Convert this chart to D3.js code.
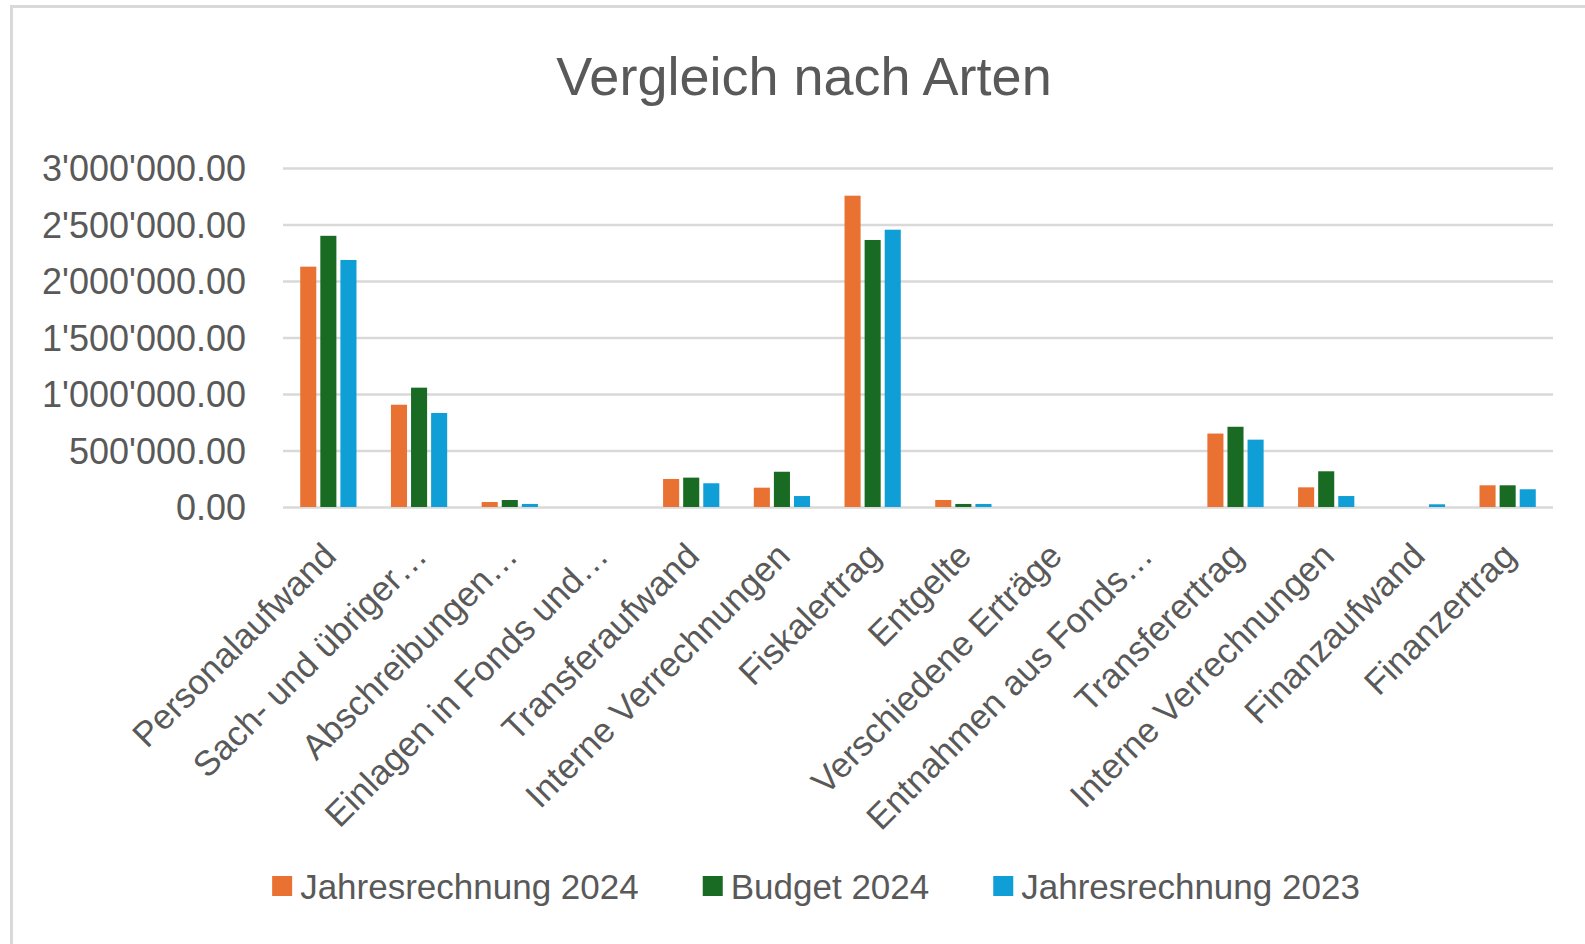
<!DOCTYPE html>
<html>
<head>
<meta charset="utf-8">
<script src="https://cdn.jsdelivr.net/npm/d3@7"></script>
<style>
    body { margin: 0; background: #fff; }
    #chart-area { width: 1585px; height: 944px; }
    text { font-family: "Liberation Sans", Arial, sans-serif; fill: #595959; }
</style>
</head>
<body>
<div id="chart-area"></div>
<script>

// categories on the x axis (as shown, truncated the same way)
const categories = [
    "Personalaufwand", "Sach- und übriger…", "Abschreibungen…", "Einlagen in Fonds und…",
    "Transferaufwand", "Interne Verrechnungen", "Fiskalertrag", "Entgelte",
    "Verschiedene Erträge", "Entnahmen aus Fonds…", "Transferertrag", "Interne Verrechnungen",
    "Finanzaufwand", "Finanzertrag"
];

const seriesNames = ["Jahresrechnung 2024", "Budget 2024", "Jahresrechnung 2023"];
const seriesColors = ["#E97132", "#196B24", "#0F9ED5"];

// values
const jahresrechnung2024 = [2127000, 905000, 44000, 0, 248000, 171000, 2755000, 62000, 0, 0, 650000, 174000, 0, 192000];
const budget2024 = [2400000, 1056000, 62000, 0, 260000, 312000, 2363000, 27000, 0, 0, 710000, 316000, 0, 192000];
const jahresrechnung2023 = [2186000, 832000, 27000, 0, 210000, 97000, 2454000, 27000, 0, 0, 596000, 97000, 24000, 157000];

const yTicks = [0, 500000, 1000000, 1500000, 2000000, 2500000, 3000000];

class GroupedBars {
    constructor(_parentElement) {
        this.parentElement = _parentElement;
        this.initVis();
    }

    initVis() {
        let vis = this;

        vis.width = 1585;
        vis.height = 944;
        vis.plot = {left: 283, right: 1553, top: 168, bottom: 507};

        vis.svg = d3.select("#" + vis.parentElement).append("svg")
            .attr("width", vis.width)
            .attr("height", vis.height);

        // chart border
        vis.svg.append("rect")
            .attr("x", 11.5).attr("y", 6.5)
            .attr("width", 1600).attr("height", 1000)
            .attr("fill", "none")
            .attr("stroke", "#d9d9d9")
            .attr("stroke-width", 3);

        vis.svg.append("text")
            .attr("x", 804).attr("y", 95)
            .attr("text-anchor", "middle")
            .attr("font-size", 54)
            .text("Vergleich nach Arten");

        vis.x0 = d3.scaleBand()
            .domain(d3.range(categories.length))
            .range([vis.plot.left, vis.plot.right])
            .paddingInner(0.38)
            .paddingOuter(0.19);

        vis.x1 = d3.scaleBand()
            .domain(d3.range(seriesNames.length))
            .range([0, vis.x0.bandwidth()])
            .paddingInner(0.2);

        vis.y = d3.scaleLinear()
            .domain([0, 3000000])
            .range([vis.plot.bottom, vis.plot.top]);

        vis.wrangleData();
    }

    wrangleData() {
        let vis = this;
        let series = [jahresrechnung2024, budget2024, jahresrechnung2023];

        vis.displayData = categories.map((c, i) => ({
            index: i,
            values: series.map((s, j) => ({series: j, value: s[i]}))
        }));

        vis.updateVis();
    }

    updateVis() {
        let vis = this;

        const locale = d3.formatLocale({decimal: ".", thousands: "'", grouping: [3], currency: ["", ""]});
        const fmt = locale.format(",.2f");

        // gridlines and y labels
        let yAxis = vis.svg.append("g")
            .attr("class", "axis axis--y")
            .attr("transform", "translate(" + vis.plot.left + ",0)")
            .call(d3.axisLeft(vis.y)
                .tickValues(yTicks)
                .tickFormat(fmt)
                .tickSize(-(vis.plot.right - vis.plot.left))
                .tickPadding(37));
        yAxis.select(".domain").remove();
        yAxis.selectAll(".tick line")
            .attr("stroke", "#d9d9d9")
            .attr("stroke-width", 2.5);
        yAxis.selectAll(".tick text")
            .attr("font-size", 36)
            .attr("font-family", "Liberation Sans, Arial, sans-serif")
            .attr("fill", "#595959")
            .attr("dy", "0.35em");

        // bars
        let groups = vis.svg.append("g")
            .attr("class", "bars")
            .selectAll("g")
            .data(vis.displayData)
            .enter()
            .append("g")
            .attr("transform", d => "translate(" + vis.x0(d.index) + ",0)");

        groups.selectAll("rect")
            .data(d => d.values.filter(v => v.value > 0))
            .enter()
            .append("rect")
            .attr("x", d => vis.x1(d.series))
            .attr("y", d => vis.y(d.value))
            .attr("width", vis.x1.bandwidth())
            .attr("height", d => vis.y(0) - vis.y(d.value))
            .attr("fill", d => seriesColors[d.series]);

        // rotated category labels
        vis.svg.append("g")
            .attr("class", "axis axis--x")
            .selectAll("text")
            .data(categories)
            .enter()
            .append("text")
            .attr("text-anchor", "end")
            .attr("font-size", 35)
            .attr("transform", (d, i) => {
                let cx = vis.x0(i) + vis.x0.bandwidth() / 2;
                return "translate(" + (cx + 10) + "," + (vis.plot.bottom + 51) + ") rotate(-45)";
            })
            .text(d => d);

        // legend, centred under the chart
        let legend = vis.svg.append("g").attr("class", "legend");
        let items = legend.selectAll("g")
            .data(seriesNames)
            .enter()
            .append("g");

        items.append("rect")
            .attr("width", 20).attr("height", 20)
            .attr("y", 876)
            .attr("fill", (d, i) => seriesColors[i]);

        items.append("text")
            .attr("x", 28)
            .attr("y", 899)
            .attr("font-size", 35)
            .text(d => d);

        let widths = [];
        items.each(function () {
            widths.push(28 + d3.select(this).select("text").node().getComputedTextLength());
        });
        let gap = 64;
        let total = d3.sum(widths) + gap * (widths.length - 1);
        let xPos = 816 - total / 2;
        items.attr("transform", (d, i) => {
            let t = "translate(" + xPos + ",0)";
            xPos += widths[i] + gap;
            return t;
        });
    }
}

let myChart = new GroupedBars("chart-area");
</script>
</body>
</html>
